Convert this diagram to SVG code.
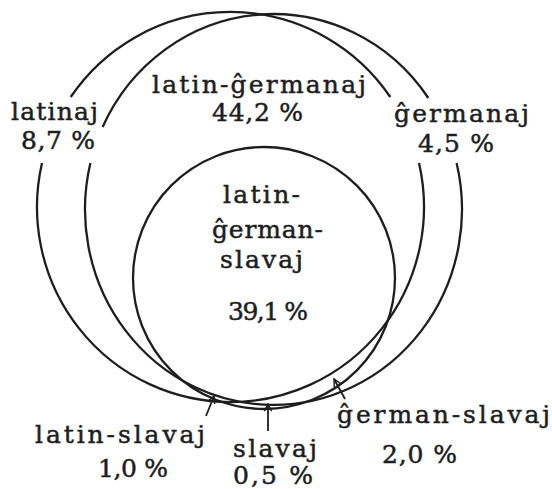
<svg xmlns="http://www.w3.org/2000/svg" width="552" height="489" viewBox="0 0 552 489">
<style>
.c{fill:none;stroke:#1e1e1e;stroke-width:2.3}
.t{font-family:"DejaVu Serif","Liberation Serif",serif;font-size:25px;fill:#1e1e1e;stroke:#1e1e1e;stroke-width:0.5}
.a{fill:none;stroke:#1e1e1e;stroke-width:1.8}
</style>
<defs>
<marker id="ah" viewBox="0 0 10 10" refX="9" refY="5" markerWidth="9" markerHeight="9" markerUnits="userSpaceOnUse" orient="auto">
<path d="M1 1 L9 5 L1 9" fill="none" stroke="#1e1e1e" stroke-width="1.6"/>
</marker>
</defs>
<rect width="552" height="489" fill="#ffffff"/>
<g id="latin">
<path class="c" d="M42 163 A193.5 195 0 1 0 419 163"/>
<path class="c" d="M70.7 97 A193.5 195 0 0 1 390.3 97"/>
</g>
<g id="german">
<path class="c" d="M90.4 163 A188.5 195.5 0 1 0 456.6 163"/>
<path class="c" d="M102.6 127 A188.5 195.5 0 0 1 428.3 98"/>
</g>
<g id="slavic">
<circle class="c" cx="264" cy="278" r="131"/>
</g>
<g id="label-latinaj">
<text class="t" x="11" y="120" textLength="87">latinaj</text>
<text class="t" x="21" y="149" textLength="74">8,7 %</text>
</g>
<g id="label-latin-germanaj">
<text class="t" x="152" y="93" textLength="214">latin-ĝermanaj</text>
<text class="t" x="212" y="121" textLength="91">44,2 %</text>
</g>
<g id="label-germanaj">
<text class="t" x="394" y="122" textLength="135">ĝermanaj</text>
<text class="t" x="418" y="152" textLength="76">4,5 %</text>
</g>
<g id="label-all">
<text class="t" x="223" y="203" textLength="77">latin-</text>
<text class="t" x="212" y="238" textLength="111">ĝerman-</text>
<text class="t" x="220" y="268" textLength="83">slavaj</text>
<text class="t" x="228" y="320" textLength="80">39,1 %</text>
</g>
<g id="label-latin-slavaj">
<text class="t" x="35" y="443" textLength="170">latin-slavaj</text>
<text class="t" x="98" y="477" textLength="70">1,0 %</text>
</g>
<g id="label-slavaj">
<text class="t" x="233" y="457" textLength="84">slavaj</text>
<text class="t" x="233" y="484" textLength="80">0,5 %</text>
</g>
<g id="label-german-slavaj">
<text class="t" x="337" y="423" textLength="213">ĝerman-slavaj</text>
<text class="t" x="382" y="463" textLength="75">2,0 %</text>
</g>
<g id="connectors">
<line class="a" x1="206" y1="416" x2="214" y2="396" marker-end="url(#ah)"/>
<line class="a" x1="268" y1="431" x2="268" y2="404" marker-end="url(#ah)"/>
<line class="a" x1="345" y1="399" x2="334" y2="379" marker-end="url(#ah)"/>
</g>
</svg>
